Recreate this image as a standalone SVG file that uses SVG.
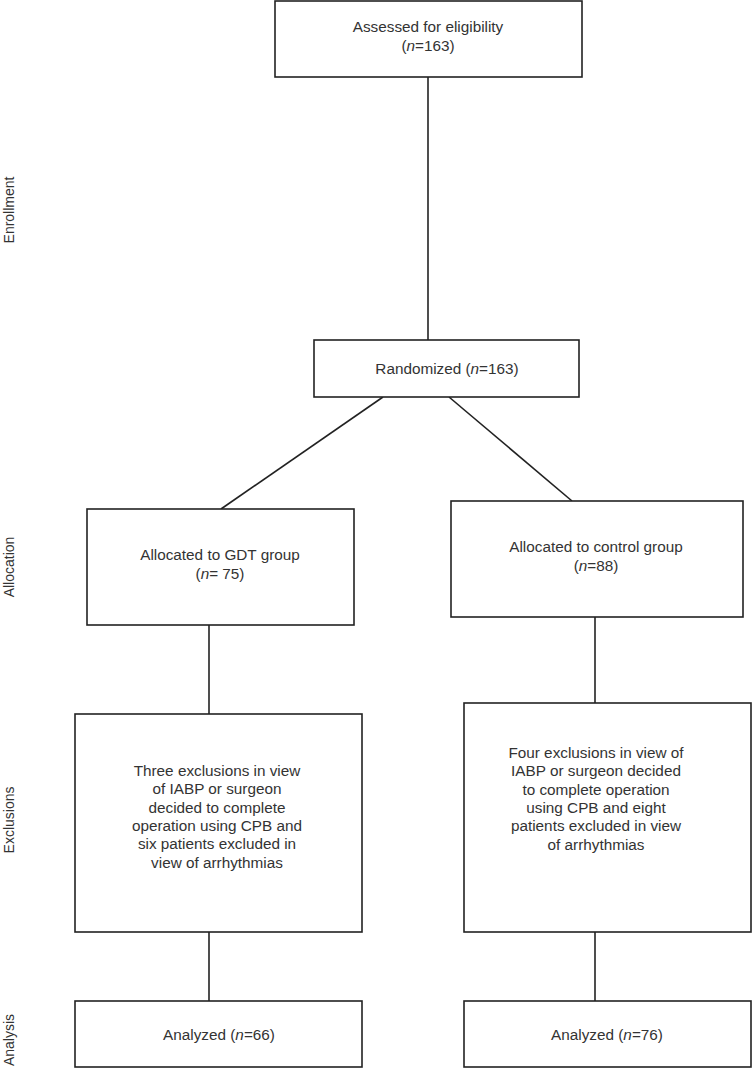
<svg xmlns="http://www.w3.org/2000/svg" width="752" height="1071" viewBox="0 0 752 1071">
<style>
.box{fill:#fff;stroke:#222;stroke-width:1.6}
.t{font-family:"Liberation Sans",Arial,sans-serif;font-size:15.3px;fill:#333;text-anchor:middle}
.side{font-family:"Liberation Sans",Arial,sans-serif;font-size:14px;fill:#333;text-anchor:middle}
.c{stroke:#222;stroke-width:1.6;fill:none}
</style>
<rect width="752" height="1071" fill="#fff"/>
<g id="connectors">
<line class="c" x1="428" y1="77" x2="428" y2="340"/>
<line class="c" x1="383" y1="397" x2="221" y2="509"/>
<line class="c" x1="449" y1="397" x2="572" y2="501"/>
<line class="c" x1="209" y1="625" x2="209" y2="714"/>
<line class="c" x1="595" y1="617" x2="595" y2="703"/>
<line class="c" x1="209" y1="932" x2="209" y2="1001"/>
<line class="c" x1="595" y1="932" x2="595" y2="1001"/>
</g>
<g id="side-labels">
<text class="side" transform="translate(14,210) rotate(-90)">Enrollment</text>
<text class="side" transform="translate(14,567) rotate(-90)">Allocation</text>
<text class="side" transform="translate(14,820) rotate(-90)">Exclusions</text>
<text class="side" transform="translate(14,1040) rotate(-90)">Analysis</text>
</g>
<g id="assessed">
<rect class="box" x="275" y="1" width="307" height="76"/>
<text class="t" x="428" y="32">Assessed for eligibility</text>
<text class="t" x="428" y="51">(<tspan font-style="italic">n</tspan>=163)</text>
</g>
<g id="randomized">
<rect class="box" x="314" y="340" width="265" height="57"/>
<text class="t" x="447" y="374">Randomized (<tspan font-style="italic">n</tspan>=163)</text>
</g>
<g id="gdt">
<rect class="box" x="87" y="509" width="267" height="116"/>
<text class="t" x="220" y="560">Allocated to GDT group</text>
<text class="t" x="220" y="579">(<tspan font-style="italic">n</tspan>= 75)</text>
</g>
<g id="control">
<rect class="box" x="451" y="501" width="292" height="116"/>
<text class="t" x="596" y="552">Allocated to control group</text>
<text class="t" x="596" y="571">(<tspan font-style="italic">n</tspan>=88)</text>
</g>
<g id="gdt-exclusions">
<rect class="box" x="75" y="714" width="287" height="218"/>
<text class="t" x="217" y="776">Three exclusions in view</text>
<text class="t" x="217" y="794">of IABP or surgeon</text>
<text class="t" x="217" y="813">decided to complete</text>
<text class="t" x="217" y="831">operation using CPB and</text>
<text class="t" x="217" y="849">six patients excluded in</text>
<text class="t" x="217" y="868">view of arrhythmias</text>
</g>
<g id="control-exclusions">
<rect class="box" x="464" y="703" width="287" height="229"/>
<text class="t" x="596" y="758">Four exclusions in view of</text>
<text class="t" x="596" y="776">IABP or surgeon decided</text>
<text class="t" x="596" y="795">to complete operation</text>
<text class="t" x="596" y="813">using CPB and eight</text>
<text class="t" x="596" y="831">patients excluded in view</text>
<text class="t" x="596" y="850">of arrhythmias</text>
</g>
<g id="analyzed-gdt">
<rect class="box" x="75" y="1001" width="287" height="66"/>
<text class="t" x="219" y="1040">Analyzed (<tspan font-style="italic">n</tspan>=66)</text>
</g>
<g id="analyzed-control">
<rect class="box" x="464" y="1001" width="287" height="66"/>
<text class="t" x="607" y="1040">Analyzed (<tspan font-style="italic">n</tspan>=76)</text>
</g>
</svg>
